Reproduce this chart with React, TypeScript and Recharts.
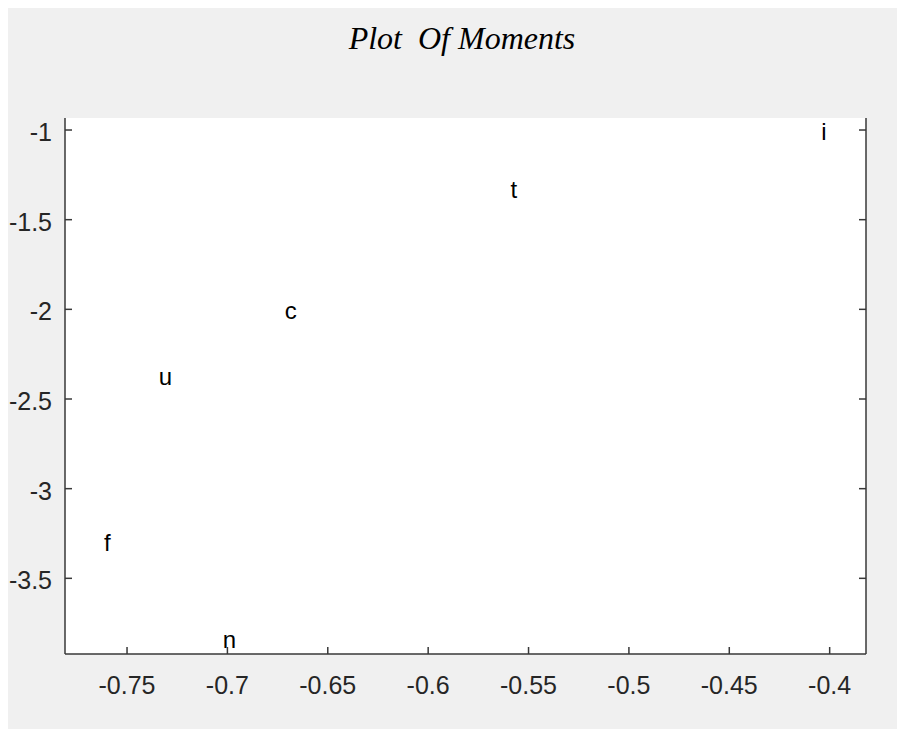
import React from 'react';
import {
  ScatterChart,
  Scatter,
  XAxis,
  YAxis,
  CartesianGrid,
} from 'recharts';

// letters placed at their moment coordinates
const labels = ['i', 't', 'c', 'u', 'f', 'n'];
const xValues = [-0.4028, -0.5573, -0.6685, -0.7309, -0.7598, -0.699];
const yValues = [-1.006, -1.329, -2.009, -2.375, -3.3, -3.839];

const xTicks = [-0.75, -0.7, -0.65, -0.6, -0.55, -0.5, -0.45, -0.4];
const yTicks = [-3.5, -3, -2.5, -2, -1.5, -1];

const xDomain = [-0.7809, -0.3819];
const yDomain = [-3.922, -0.933];

const points = labels.map((label, i) => ({ label, x: xValues[i], y: yValues[i] }));

const AXIS = '#383838';
const FONT = '"Liberation Sans", Arial, sans-serif';

const BottomTick = ({ x, y, payload }: any) => (
  <g>
    <line x1={x} y1={y} x2={x} y2={y - 7} stroke={AXIS} strokeWidth={1.5} />
    <text x={x} y={y + 31} textAnchor="middle" dominantBaseline="central" fill="#262626" fontSize={25} fontFamily={FONT}>
      {String(payload.value)}
    </text>
  </g>
);

const TopTick = ({ x, y }: any) => (
  <line x1={x} y1={y} x2={x} y2={y + 7} stroke={AXIS} strokeWidth={1.5} />
);

const LeftTick = ({ x, y, payload }: any) => (
  <g>
    <line x1={x} y1={y} x2={x + 7} y2={y} stroke={AXIS} strokeWidth={1.5} />
    <text x={x - 13} y={y + 2} textAnchor="end" dominantBaseline="central" fill="#262626" fontSize={25} fontFamily={FONT}>
      {String(payload.value)}
    </text>
  </g>
);

const RightTick = ({ x, y }: any) => (
  <line x1={x} y1={y} x2={x - 7} y2={y} stroke={AXIS} strokeWidth={1.5} />
);

const LetterShape = ({ cx, cy, payload }: any) => (
  <text x={cx} y={cy} textAnchor="middle" dominantBaseline="central" fill="#000" fontSize={24} fontFamily={FONT}>
    {payload.label}
  </text>
);

export default function App() {
  return (
    <div style={{ position: 'relative', width: 897, height: 721, background: '#f0f0f0' }}>
      <div
        style={{
          position: 'absolute',
          top: 12,
          left: 0,
          width: 908,
          textAlign: 'center',
          fontFamily: '"Liberation Serif", "Times New Roman", serif',
          fontStyle: 'italic',
          fontSize: 32,
          color: '#000',
          whiteSpace: 'pre',
        }}
      >
        {'Plot  Of Moments'}
      </div>
      <ScatterChart
        width={897}
        height={721}
        margin={{ top: 110, right: 38, bottom: 15, left: 0 }}
        style={{ position: 'absolute', top: 0, left: 0, overflow: 'visible' }}
      >
        <CartesianGrid fill="#ffffff" fillOpacity={1} stroke="none" />
        <XAxis
          xAxisId="bottom"
          type="number"
          dataKey="x"
          domain={xDomain}
          ticks={xTicks}
          allowDataOverflow
          orientation="bottom"
          height={60}
          tickSize={0}
          tickMargin={0}
          tickLine={false}
          axisLine={{ stroke: AXIS, strokeWidth: 1.5 }}
          tick={<BottomTick />}
          interval={0}
        />
        <XAxis
          xAxisId="top"
          type="number"
          dataKey="x"
          domain={xDomain}
          ticks={xTicks}
          allowDataOverflow
          orientation="top"
          height={0}
          tickSize={0}
          tickMargin={0}
          tickLine={false}
          axisLine={{ stroke: AXIS, strokeWidth: 1.5 }}
          tick={<TopTick />}
          interval={0}
        />
        <YAxis
          yAxisId="left"
          type="number"
          dataKey="y"
          domain={yDomain}
          ticks={yTicks}
          allowDataOverflow
          orientation="left"
          width={57}
          tickSize={0}
          tickMargin={0}
          tickLine={false}
          axisLine={{ stroke: AXIS, strokeWidth: 1.5 }}
          tick={<LeftTick />}
          interval={0}
        />
        <YAxis
          yAxisId="right"
          type="number"
          dataKey="y"
          domain={yDomain}
          ticks={yTicks}
          allowDataOverflow
          orientation="right"
          width={1}
          tickSize={0}
          tickMargin={0}
          tickLine={false}
          axisLine={{ stroke: AXIS, strokeWidth: 1.5 }}
          tick={<RightTick />}
          interval={0}
        />
        <Scatter
          data={points}
          xAxisId="bottom"
          yAxisId="left"
          shape={<LetterShape />}
          isAnimationActive={false}
        />
      </ScatterChart>
    </div>
  );
}
